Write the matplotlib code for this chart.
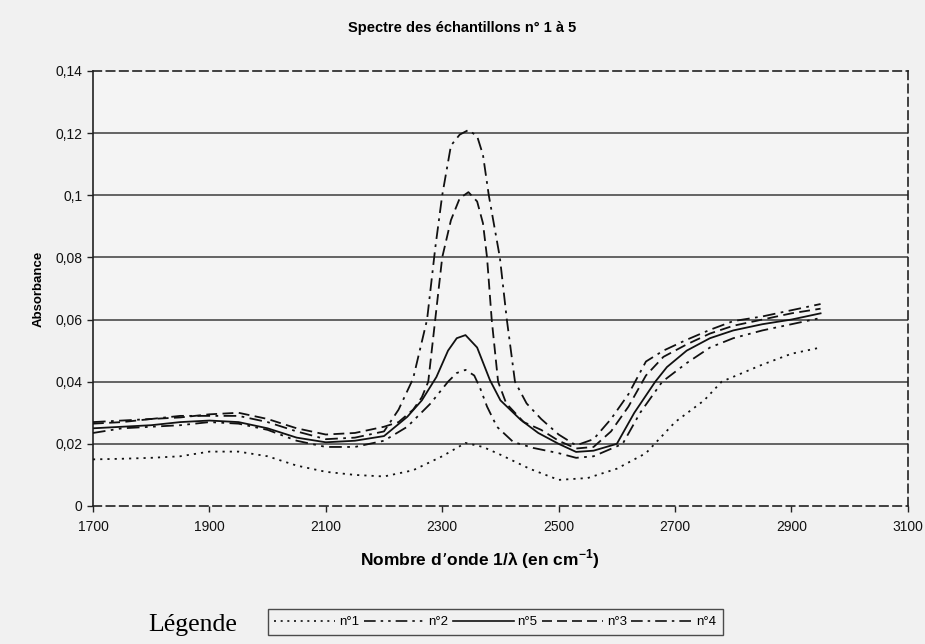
import matplotlib
matplotlib.use("Agg")
import matplotlib.pyplot as plt
from matplotlib.lines import Line2D
from matplotlib.ticker import FuncFormatter

# Absorbance spectra of samples 1 to 5 (wavenumber in cm^-1)
x1 = [1700, 1750, 1800, 1850, 1900, 1950, 2000, 2050, 2100, 2150, 2200, 2250, 2300,
      2340, 2370, 2400, 2450, 2500, 2550, 2600, 2650, 2700, 2750, 2780, 2850, 2900, 2950]
n1 = [0.015, 0.0152, 0.0155, 0.016, 0.0175, 0.0175, 0.016, 0.013, 0.011, 0.010, 0.0095,
      0.0115, 0.016, 0.0203, 0.019, 0.0165, 0.012, 0.0084, 0.009, 0.012, 0.017, 0.027,
      0.034, 0.040, 0.0455, 0.049, 0.051]

x2 = [1700, 1750, 1800, 1850, 1900, 1950, 2000, 2050, 2100, 2150, 2200, 2240, 2280,
      2310, 2325, 2340, 2355, 2365, 2377, 2394, 2422, 2456, 2500, 2530, 2560, 2610,
      2640, 2678, 2720, 2760, 2800, 2850, 2900, 2950]
n2 = [0.0235, 0.025, 0.0255, 0.026, 0.027, 0.0265, 0.0245, 0.021, 0.019, 0.019, 0.021,
      0.0255, 0.033, 0.040, 0.0428, 0.0438, 0.042, 0.038, 0.032, 0.0255, 0.0206, 0.0187,
      0.017, 0.0155, 0.016, 0.020, 0.030, 0.040, 0.046, 0.051, 0.054, 0.0565, 0.0585, 0.0605]

x3 = [1700, 1750, 1800, 1850, 1900, 1950, 2000, 2050, 2100, 2150, 2200, 2225, 2250,
      2265, 2276, 2288, 2300, 2315, 2330, 2345, 2360, 2370, 2377, 2385, 2396, 2410,
      2440, 2470, 2500, 2530, 2560, 2590, 2620, 2650, 2680, 2720, 2760, 2800, 2850,
      2900, 2950]
n3 = [0.0265, 0.027, 0.028, 0.0285, 0.0295, 0.030, 0.028, 0.025, 0.023, 0.0235, 0.0255,
      0.027, 0.031, 0.035, 0.040, 0.060, 0.080, 0.092, 0.099, 0.101, 0.098, 0.091, 0.080,
      0.060, 0.040, 0.033, 0.027, 0.0245, 0.021, 0.0185, 0.019, 0.024, 0.032, 0.042,
      0.048, 0.052, 0.0555, 0.058, 0.060, 0.062, 0.0635]

x4 = [1700, 1750, 1800, 1850, 1900, 1950, 2000, 2050, 2100, 2150, 2200, 2225, 2250,
      2274, 2288, 2300, 2315, 2330, 2345, 2360, 2370, 2380, 2399, 2411, 2425, 2445,
      2470, 2500, 2530, 2560, 2590, 2620, 2650, 2680, 2720, 2760, 2800, 2850, 2900, 2950]
n4 = [0.027, 0.0275, 0.028, 0.029, 0.029, 0.029, 0.027, 0.024, 0.0215, 0.022, 0.024,
      0.031, 0.041, 0.060, 0.083, 0.100, 0.116, 0.1195, 0.121, 0.119, 0.113, 0.100, 0.080,
      0.060, 0.040, 0.033, 0.028, 0.023, 0.0195, 0.0215, 0.028, 0.036, 0.0465, 0.050,
      0.0535, 0.0567, 0.0595, 0.061, 0.063, 0.065]

x5 = [1700, 1750, 1800, 1850, 1900, 1950, 2000, 2050, 2100, 2150, 2200, 2240, 2265,
      2290, 2310, 2325, 2340, 2360, 2382, 2400, 2435, 2465, 2500, 2530, 2560, 2600,
      2630, 2666, 2686, 2720, 2760, 2800, 2850, 2900, 2950]
n5 = [0.025, 0.0255, 0.026, 0.027, 0.0275, 0.027, 0.025, 0.022, 0.0205, 0.021, 0.0225,
      0.0287, 0.034, 0.0415, 0.050, 0.054, 0.055, 0.051, 0.0405, 0.034, 0.0277, 0.0235,
      0.020, 0.0174, 0.0178, 0.020, 0.030, 0.040, 0.0447, 0.050, 0.054, 0.0565, 0.0585,
      0.060, 0.062]

x_ticks = [1700, 1900, 2100, 2300, 2500, 2700, 2900, 3100]
y_ticks = [0, 0.02, 0.04, 0.06, 0.08, 0.1, 0.12, 0.14]

series = [
    ("n°1", x1, n1, (0, (1.2, 2.8))),
    ("n°2", x2, n2, (0, (7, 3, 1.5, 3, 1.5, 3))),
    ("n°5", x5, n5, "-"),
    ("n°3", x3, n3, (0, (6, 3))),
    ("n°4", x4, n4, (0, (7, 3, 1.5, 3))),
]

sans = ["Liberation Sans Narrow", "Liberation Sans", "DejaVu Sans"]
bg = "#f1f1f1"
fig = plt.figure(figsize=(9.25, 6.44), dpi=100, facecolor=bg)
ax = fig.add_axes([0.1005, 0.2143, 0.881, 0.6755], facecolor="#f4f4f4")

for y in y_ticks[1:-1]:
    ax.axhline(y, color="#4a4a4a", lw=1.2, zorder=1)

for name, xs, ys, ls in series:
    ax.plot(xs, ys, color="#111111", lw=1.3, linestyle=ls, zorder=3)

ax.set_xlim(1700, 3100)
ax.set_ylim(0, 0.14)
ax.set_xticks(x_ticks)
ax.set_yticks(y_ticks)

fmt = lambda v, p: ("%g" % v).replace(".", ",")
ax.yaxis.set_major_formatter(FuncFormatter(fmt))
ax.tick_params(axis="both", direction="out", length=4, width=1, color="#222222",
               labelsize=10, labelcolor="#111111")
ax.tick_params(axis="x", pad=6)
for lab in ax.get_xticklabels() + ax.get_yticklabels():
    lab.set_family("Liberation Sans")

ax.spines["left"].set_color("#222222")
ax.spines["left"].set_linewidth(1.2)
for side in ("top", "right", "bottom"):
    ax.spines[side].set_linestyle((0, (5, 3)))
    ax.spines[side].set_color("#222222")
    ax.spines[side].set_linewidth(1.2)

fig.text(0.5, 0.957, "Spectre des échantillons n° 1 à 5", ha="center", va="center",
         fontsize=10.5, fontweight="bold", family=sans)
ax.set_ylabel("Absorbance", fontsize=9.5, fontweight="bold", family=sans, labelpad=8)
ax.set_xlabel("Nombre d’onde 1/λ (en cm$^{\\mathregular{-1}}$)", fontsize=12.5,
              fontweight="bold", family="Liberation Sans", labelpad=10)
ax.xaxis.set_label_coords(0.475, -0.095)

handles = [Line2D([], [], color="#111111", lw=1.2, linestyle=ls) for _, _, _, ls in series]
labels = [name for name, _, _, _ in series]
leg = fig.legend(handles, labels, ncol=5, loc="center left",
                 bbox_to_anchor=(261 / 925, 1 - 622 / 644), frameon=True,
                 fancybox=False, edgecolor="#222222", facecolor=bg,
                 handlelength=4.6, handletextpad=0.3, columnspacing=0.35,
                 borderpad=0.5, prop={"family": "Liberation Sans", "size": 9.5})
leg.get_frame().set_linewidth(1.0)

fig.text(148 / 925, 1 - 625 / 644, "Légende", ha="left", va="center",
         fontsize=18.5, family="Liberation Serif")

fig.savefig("out.png", dpi=100, facecolor=bg)
